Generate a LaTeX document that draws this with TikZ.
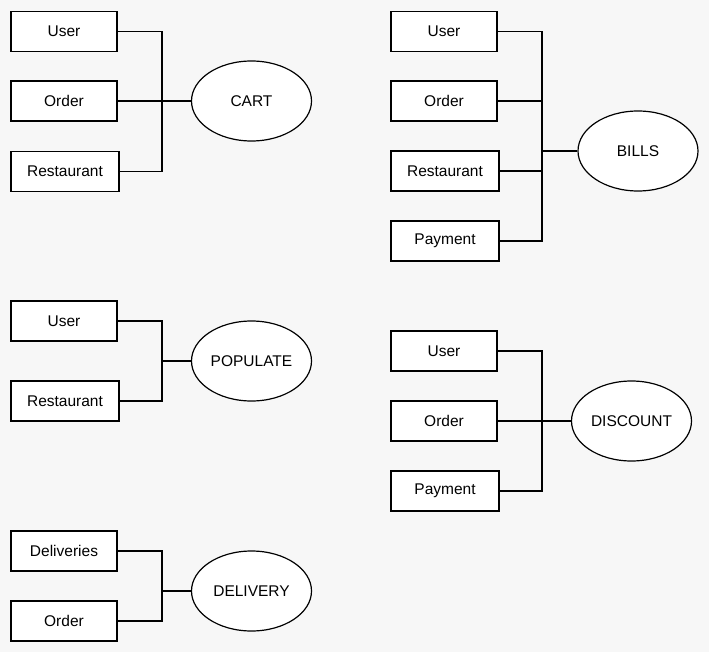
\documentclass[tikz,border=0pt]{standalone}
\usepackage{fontspec}
\setmainfont{Liberation Sans}
\usetikzlibrary{shapes.geometric}
\definecolor{bg}{HTML}{F7F7F7}
\begin{document}
\begin{tikzpicture}[x=1pt,y=-1pt,
  ent/.style={draw=black,fill=white,line width=1.2pt,minimum width=106pt,minimum height=40pt,inner sep=0pt,font=\fontsize{15.5}{18}\selectfont},
  wide/.style={ent,minimum width=108pt},
  rel/.style={ellipse,draw=black,fill=white,line width=1.2pt,minimum width=120pt,minimum height=80pt,inner sep=0pt,font=\fontsize{15.5}{18}\selectfont},
  thin/.style={line width=1.2pt},
  thick2/.style={line width=2.4pt}]
\fill[bg] (0,0) rectangle (709,652);
\useasboundingbox (0,0) rectangle (709,652);
% CART
\node[ent] (cu) at (64,31.5) {User};
\node[ent] (co) at (64,101) {Order};
\node[wide] (cr) at (65,171.5) {Restaurant};
\node[rel] (cart) at (251.5,101) {CART};
\coordinate (cj) at (162,101);
\draw[thin] (cu.east) -| (cj);
\draw[thin] (cr.east) -| (cj);
\draw[thin] (co.east) -- (cj);
\draw[thick2] (cj) -- (cart.west);
% BILLS
\node[ent] (bu) at (444,31.5) {User};
\node[ent] (bo) at (444,101) {Order};
\node[wide] (br) at (445,171) {Restaurant};
\node[wide] (bp) at (445,241) {Payment};
\node[rel] (bills) at (638,151) {BILLS};
\coordinate (bj) at (542,151);
\draw[thin] (bu.east) -| (bj);
\draw[thin] (bp.east) -| (bj);
\draw[thin] (bo.east) -| (bj);
\draw[thin] (br.east) -| (bj);
\draw[thick2] (bj) -- (bills.west);
% POPULATE
\node[ent] (pu) at (64,321) {User};
\node[wide] (pr) at (65,401) {Restaurant};
\node[rel] (pop) at (251.5,361) {POPULATE};
\coordinate (pj) at (162,361);
\draw[thin] (pu.east) -| (pj);
\draw[thin] (pr.east) -| (pj);
\draw[thick2] (pj) -- (pop.west);
% DISCOUNT
\node[ent] (du) at (444,351) {User};
\node[ent] (do) at (444,421) {Order};
\node[wide] (dp) at (445,491) {Payment};
\node[rel] (disc) at (631.5,421) {DISCOUNT};
\coordinate (dj) at (542,421);
\draw[thin] (du.east) -| (dj);
\draw[thin] (dp.east) -| (dj);
\draw[thin] (do.east) -- (dj);
\draw[thick2] (dj) -- (disc.west);
% DELIVERY
\node[ent] (vd) at (64,551) {Deliveries};
\node[ent] (vo) at (64,621) {Order};
\node[rel] (deliv) at (251.5,591) {DELIVERY};
\coordinate (vj) at (162,591);
\draw[thin] (vd.east) -| (vj);
\draw[thin] (vo.east) -| (vj);
\draw[thick2] (vj) -- (deliv.west);
\end{tikzpicture}
\end{document}
